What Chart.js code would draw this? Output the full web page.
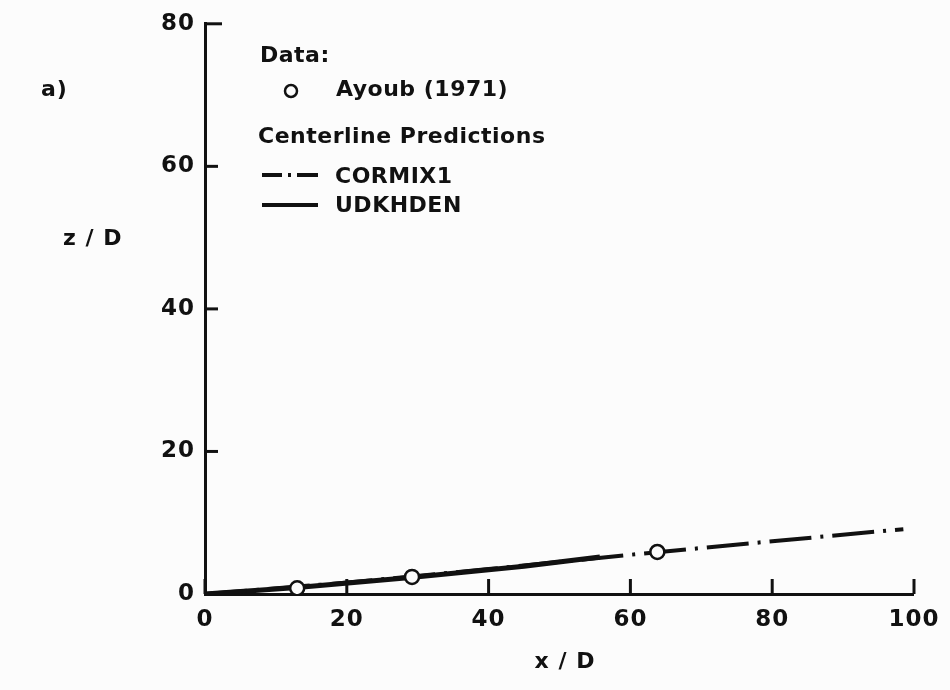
<!DOCTYPE html>
<html>
<head>
<meta charset="utf-8">
<script src="https://cdn.jsdelivr.net/npm/chart.js@4"></script>
<style>
  html, body { margin: 0; padding: 0; background: #fcfcfc; }
  #wrap { width: 950px; height: 690px; position: relative; }
</style>
</head>
<body>
<div id="wrap"><canvas id="plume" width="950" height="690"></canvas></div>
<script>
// measured centreline points, Ayoub (1971)
const ayoubX = [13.0, 29.2, 63.8];
const ayoubZ = [0.8, 2.4, 5.9];

// model predictions
const cormixX = [0, 20, 40, 60, 80, 98.5];
const cormixZ = [0, 1.6, 3.5, 5.5, 7.4, 9.1];
const udkhdenX = [0, 13, 29, 45, 55.7];
const udkhdenZ = [0, 0.9, 2.3, 3.9, 5.2];

// axis ticks
const xTicks = [0, 20, 40, 60, 80, 100];
const zTicks = [0, 20, 40, 60, 80];

const INK = '#111';
const PAPER = '#fcfcfc';
const FONT = '"DejaVu Sans", sans-serif';

function pts(xs, ys){
    return xs.map((x, i) => ({x: x, y: ys[i]}));
}

// ticks pointing into the plot, titles and the hand-made key
const paperPlugin = {
    id: 'paper',
    beforeDraw(chart){
        // a little spacing on the tick labels, like stencil lettering
        chart.ctx.letterSpacing = '1px';
    },
    afterDraw(chart){
        const ctx = chart.ctx;
        const xs = chart.scales.x, ys = chart.scales.y;
        const area = chart.chartArea;
        ctx.save();
        ctx.strokeStyle = INK;
        ctx.lineWidth = 3;
        ctx.lineCap = 'butt';
        xTicks.forEach(v => {
            const px = xs.getPixelForValue(v);
            ctx.beginPath();
            ctx.moveTo(px, area.bottom);
            ctx.lineTo(px, area.bottom - 15);
            ctx.stroke();
        });
        zTicks.forEach(v => {
            const py = ys.getPixelForValue(v);
            ctx.beginPath();
            ctx.moveTo(area.left, py);
            ctx.lineTo(area.left + (v === 80 ? 17 : 13), py);
            ctx.stroke();
        });

        ctx.fillStyle = INK;
        ctx.textBaseline = 'middle';
        ctx.textAlign = 'left';
        ctx.letterSpacing = '1px';
        ctx.font = 'bold 22px ' + FONT;
        ctx.fillText('a)', 41, 90);
        ctx.fillText('z / D', 63, 239);
        ctx.textAlign = 'center';
        ctx.fillText('x / D', 565, 662);

        // key
        ctx.textAlign = 'left';
        ctx.letterSpacing = '0.5px';
        ctx.font = 'bold 22px ' + FONT;
        ctx.fillText('Data:', 260, 56);
        ctx.fillText('Ayoub (1971)', 336, 90);
        ctx.fillText('Centerline Predictions', 258, 137);
        ctx.fillText('CORMIX1', 335, 177);
        ctx.fillText('UDKHDEN', 335, 206);

        ctx.lineWidth = 2.5;
        ctx.fillStyle = PAPER;
        ctx.beginPath();
        ctx.arc(291, 91, 6, 0, Math.PI * 2);
        ctx.fill();
        ctx.stroke();

        ctx.lineWidth = 4;
        ctx.beginPath();
        ctx.moveTo(262, 175); ctx.lineTo(282, 175);
        ctx.moveTo(288, 175); ctx.lineTo(291, 175);
        ctx.moveTo(297, 175); ctx.lineTo(318, 175);
        ctx.moveTo(262, 205); ctx.lineTo(318, 205);
        ctx.stroke();
        ctx.restore();
        ctx.letterSpacing = '0px';
    }
};

new Chart(document.getElementById('plume'), {
    type: 'scatter',
    data: {
        datasets: [
            {
                label: 'UDKHDEN',
                data: pts(udkhdenX, udkhdenZ),
                showLine: true,
                borderColor: INK,
                borderWidth: 5,
                pointRadius: 0,
                tension: 0,
                order: 3
            },
            {
                label: 'CORMIX1',
                data: pts(cormixX, cormixZ),
                showLine: true,
                borderColor: INK,
                borderWidth: 4,
                borderDash: [42, 9, 3, 9],
                pointRadius: 0,
                tension: 0,
                order: 2
            },
            {
                label: 'Ayoub (1971)',
                data: pts(ayoubX, ayoubZ),
                showLine: false,
                pointStyle: 'circle',
                pointRadius: 7,
                pointBorderWidth: 2.5,
                pointBackgroundColor: PAPER,
                pointBorderColor: INK,
                order: 1
            }
        ]
    },
    options: {
        responsive: false,
        animation: false,
        layout: { padding: { top: 22, right: 32, left: 0, bottom: 0 } },
        scales: {
            x: {
                type: 'linear',
                min: 0, max: 100,
                afterFit(scale){ scale.height = 96; },
                afterBuildTicks(scale){ scale.ticks = xTicks.map(v => ({value: v})); },
                grid: { drawOnChartArea: false, drawTicks: false },
                border: { display: true, color: INK, width: 3 },
                ticks: { color: INK, padding: 12, maxRotation: 0, font: { family: FONT, size: 23, weight: 'bold' } }
            },
            y: {
                type: 'linear',
                min: 0, max: 80,
                afterFit(scale){ scale.width = 205; },
                afterBuildTicks(scale){ scale.ticks = zTicks.map(v => ({value: v})); },
                grid: { drawOnChartArea: false, drawTicks: false },
                border: { display: true, color: INK, width: 3 },
                ticks: { color: INK, padding: 10, font: { family: FONT, size: 23, weight: 'bold' } }
            }
        },
        plugins: {
            legend: { display: false },
            tooltip: { enabled: false }
        }
    },
    plugins: [paperPlugin]
});
</script>
</body>
</html>
